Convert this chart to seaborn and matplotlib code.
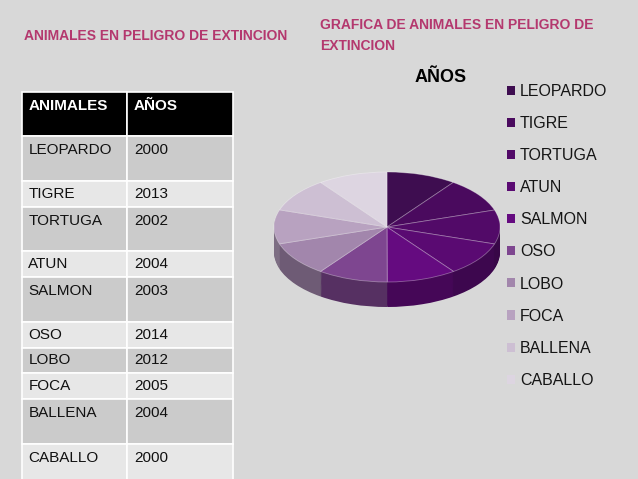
import numpy as np
import seaborn as sns
import matplotlib.pyplot as plt
from matplotlib.colors import to_rgb
from matplotlib.patches import Patch

# Datos de la tabla / grafica
animales = ["LEOPARDO", "TIGRE", "TORTUGA", "ATUN", "SALMON",
            "OSO", "LOBO", "FOCA", "BALLENA", "CABALLO"]
anios = [2000, 2013, 2002, 2004, 2003, 2014, 2012, 2005, 2004, 2000]
encabezados = ["ANIMALES", "AÑOS"]

# estilo
colores = ["#3e0d50", "#4a0a5e", "#520a68", "#5a0a72", "#650b80",
           "#7e4690", "#a286ac", "#b8a2c0", "#cdbfd3", "#ddd5e1"]
alto_filas = [44, 45, 26, 44, 26, 45, 26, 25, 26, 45, 44]  # px, encabezado incluido
color_titulo = "#b4386e"
fondo = "#d8d8d8"

sns.set_theme(style="white")
plt.rcParams["font.family"] = ["Liberation Sans", "DejaVu Sans"]

W, H = 638, 479
fig = plt.figure(figsize=(W / 100, H / 100), dpi=100, facecolor=fondo)


def caja(x0, y0, x1, y1):
    # caja en pixeles (y hacia abajo) -> coordenadas de figura
    return [x0 / W, 1 - y1 / H, (x1 - x0) / W, (y1 - y0) / H]


fig.text(24 / W, 1 - 36 / H, "ANIMALES EN PELIGRO DE EXTINCION", color=color_titulo,
         fontsize=10, fontweight="bold", va="center")
fig.text(320 / W, 1 - 35.5 / H, "GRAFICA DE ANIMALES EN PELIGRO DE\nEXTINCION",
         color=color_titulo, fontsize=10, fontweight="bold",
         va="center", linespacing=1.7)

# ---- tabla ----
ax_t = fig.add_axes(caja(22, 92, 233, 488))
ax_t.axis("off")
salto = lambda h: "\n" if h > 35 else ""
celdas = [[a + salto(h), str(v) + salto(h)]
          for a, v, h in zip(animales, anios, alto_filas[1:])]
tabla = ax_t.table(cellText=celdas,
                   colLabels=[e + salto(alto_filas[0]) for e in encabezados],
                   cellLoc="left", colLoc="left", bbox=[0, 0, 1, 1])
tabla.auto_set_font_size(False)
tabla.set_fontsize(11)
total = sum(alto_filas)
for (r, c), cel in tabla.get_celld().items():
    cel.set_height(alto_filas[r] / total)
    cel.PAD = 0.06
    cel.set_edgecolor("white")
    cel.set_linewidth(1.2)
    if r == 0:
        cel.set_facecolor("black")
        cel.get_text().set_color("white")
        cel.get_text().set_fontweight("bold")
    else:
        cel.set_facecolor("#cbcbcb" if r % 2 == 1 else "#e7e7e7")
        cel.get_text().set_color("#111111")

# ---- pastel "3D" ----
cx, cy, rx, ry, prof = 387, 227, 113, 55, 25
d = prof / ry
ax_p = fig.add_axes(caja(cx - 1.05 * rx, cy - 1.05 * ry, cx + 1.05 * rx, cy + ry + prof + 0.05 * ry))
oscuros = [tuple(np.array(to_rgb(c)) * 0.68) for c in colores]
for z in np.linspace(-d, 0, 28)[:-1]:
    ax_p.pie(anios, colors=oscuros, startangle=90, counterclock=False,
             center=(0, z), wedgeprops=dict(linewidth=0))
cunas, _ = ax_p.pie(anios, colors=colores, startangle=90, counterclock=False,
                    wedgeprops=dict(linewidth=0.6, edgecolor=(1, 1, 1, 0.35)))
ax_p.set_aspect("auto")
ax_p.set_xlim(-1.05, 1.05)
ax_p.set_ylim(-1 - d - 0.05, 1.05)
ax_p.axis("off")

fig.text(441 / W, 1 - 77 / H, "AÑOS", ha="center", va="center",
         fontsize=13, fontweight="bold", color="black")

manijas = [Patch(facecolor=c, edgecolor="none", label=a) for c, a in zip(colores, animales)]
fig.legend(handles=manijas, loc="upper left", bbox_to_anchor=(507 / W, 1 - 84 / H),
           frameon=False, fontsize=11.5, handlelength=0.5, handleheight=0.5,
           handletextpad=0.3, labelspacing=1.07, borderaxespad=0, borderpad=0,
           labelcolor="#151515")

fig.savefig("out.png", dpi=100, facecolor=fondo)
